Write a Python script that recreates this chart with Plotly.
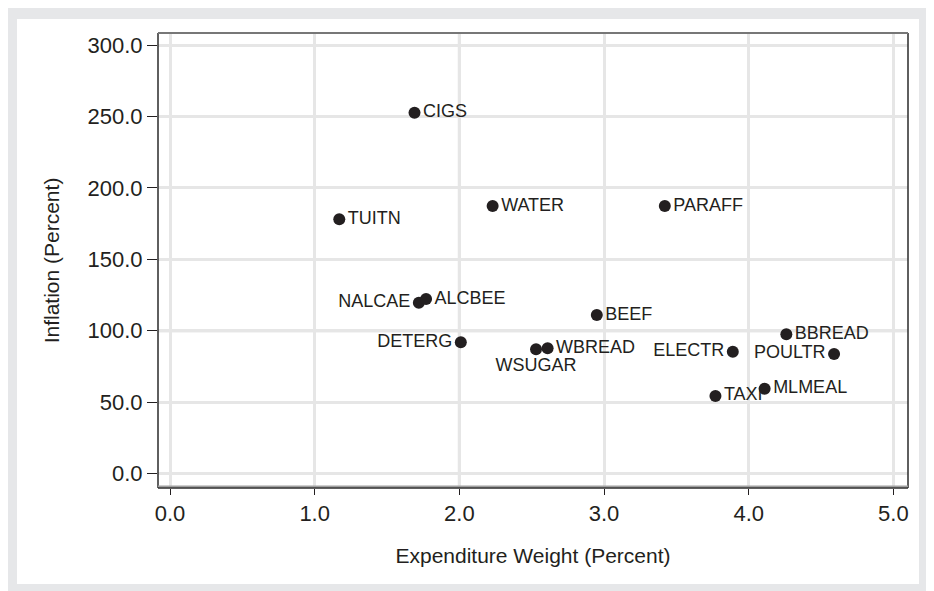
import plotly.graph_objects as go

# ---- data ----
items = ["CIGS", "TUITN", "WATER", "PARAFF", "NALCAE", "ALCBEE", "DETERG", "BEEF",
         "WSUGAR", "WBREAD", "ELECTR", "BBREAD", "POULTR", "TAXI", "MLMEAL"]
expenditure_weight = [1.69, 1.17, 2.23, 3.42, 1.72, 1.77, 2.01, 2.95,
                      2.53, 2.61, 3.89, 4.26, 4.59, 3.77, 4.11]
inflation = [252.7, 178.0, 187.3, 187.3, 119.6, 122.2, 91.9, 111.0,
             87.0, 87.7, 85.3, 97.5, 83.7, 54.3, 59.4]
x_ticks = [0, 1, 2, 3, 4, 5]
y_ticks = [0, 50, 100, 150, 200, 250, 300]

# label placement (style)
label_pos = ["middle right", "middle right", "middle right", "middle right", "middle left",
             "middle right", "middle left", "middle right", "bottom center", "middle right",
             "middle left", "middle right", "middle left", "middle right", "middle right"]

INK = "#231f20"
FONT = "Liberation Sans, Arial, sans-serif"

fig = go.Figure()
fig.add_trace(go.Scatter(
    x=expenditure_weight, y=inflation, mode="markers+text",
    text=items, textposition=label_pos,
    textfont=dict(family=FONT, size=18, color=INK),
    marker=dict(size=12, color=INK),
    cliponaxis=False, showlegend=False, hoverinfo="x+y+text",
))

# figure is drawn 8px right/down of the page origin (page body margin)
W, H = 934, 591
L, R, T, B = 150, 34, 25, 111
pw, ph = W - L - R, H - T - B

def px(xpix):
    return (xpix - L) / pw

def py(ypix):
    return (H - B - ypix) / ph

shapes = [
    # inner white panel on the grey paper
    dict(type="rect", xref="paper", yref="paper", layer="below",
         x0=px(9), x1=px(911), y0=py(576), y1=py(11),
         fillcolor="white", line=dict(width=0)),
    # reference lines (darker grid lines at x=2, y=100)
    dict(type="line", xref="x", yref="paper", layer="below",
         x0=2, x1=2, y0=0, y1=1, line=dict(color="#d2d2d2", width=3)),
    dict(type="line", xref="paper", yref="y", layer="below",
         x0=0, x1=1, y0=100, y1=100, line=dict(color="#d2d2d2", width=3)),
    # frame
    dict(type="line", xref="paper", yref="paper", x0=0, x1=0, y0=0, y1=1,
         line=dict(color="#2a2a2a", width=1.5)),
    dict(type="line", xref="paper", yref="paper", x0=1, x1=1, y0=0, y1=1,
         line=dict(color="#2a2a2a", width=1.5)),
    dict(type="line", xref="paper", yref="paper", x0=0, x1=1, y0=1, y1=1,
         line=dict(color="#777777", width=2)),
    dict(type="line", xref="paper", yref="paper", x0=0, x1=1, y0=py(478.5), y1=py(478.5),
         line=dict(color="#a0a0a0", width=2)),
    dict(type="line", xref="paper", yref="paper", x0=0, x1=1, y0=0, y1=0,
         line=dict(color="#2a2a2a", width=1.5)),
]

fig.update_layout(
    width=W, height=H,
    margin=dict(l=L, r=R, t=T, b=B, pad=0),
    paper_bgcolor="#e6e7e9", plot_bgcolor="rgba(0,0,0,0)",
    font=dict(family=FONT, color=INK),
    shapes=shapes,
)
fig.update_xaxes(
    range=[-0.083, 5.101], tickmode="array", tickvals=x_ticks,
    ticktext=[f"{v:.1f}" for v in x_ticks],
    showgrid=True, gridcolor="#e6e6e6", gridwidth=3,
    zeroline=False, showline=False,
    ticks="outside", ticklen=6, tickcolor=INK, tickwidth=1,
    tickfont=dict(family=FONT, size=22, color=INK),
    title=dict(text="Expenditure Weight (Percent)", font=dict(family=FONT, size=21, color=INK), standoff=22),
)
fig.update_yaxes(
    range=[-10.15, 308.5], tickmode="array", tickvals=y_ticks,
    ticktext=[f"{v:.1f}" for v in y_ticks],
    showgrid=True, gridcolor="#e6e6e6", gridwidth=3,
    zeroline=False, showline=False,
    ticks="outside", ticklen=10, tickcolor=INK, tickwidth=1,
    tickfont=dict(family=FONT, size=22, color=INK),
    title=dict(text="Inflation (Percent)", font=dict(family=FONT, size=21, color=INK), standoff=22),
)

fig.write_html("out.html")
